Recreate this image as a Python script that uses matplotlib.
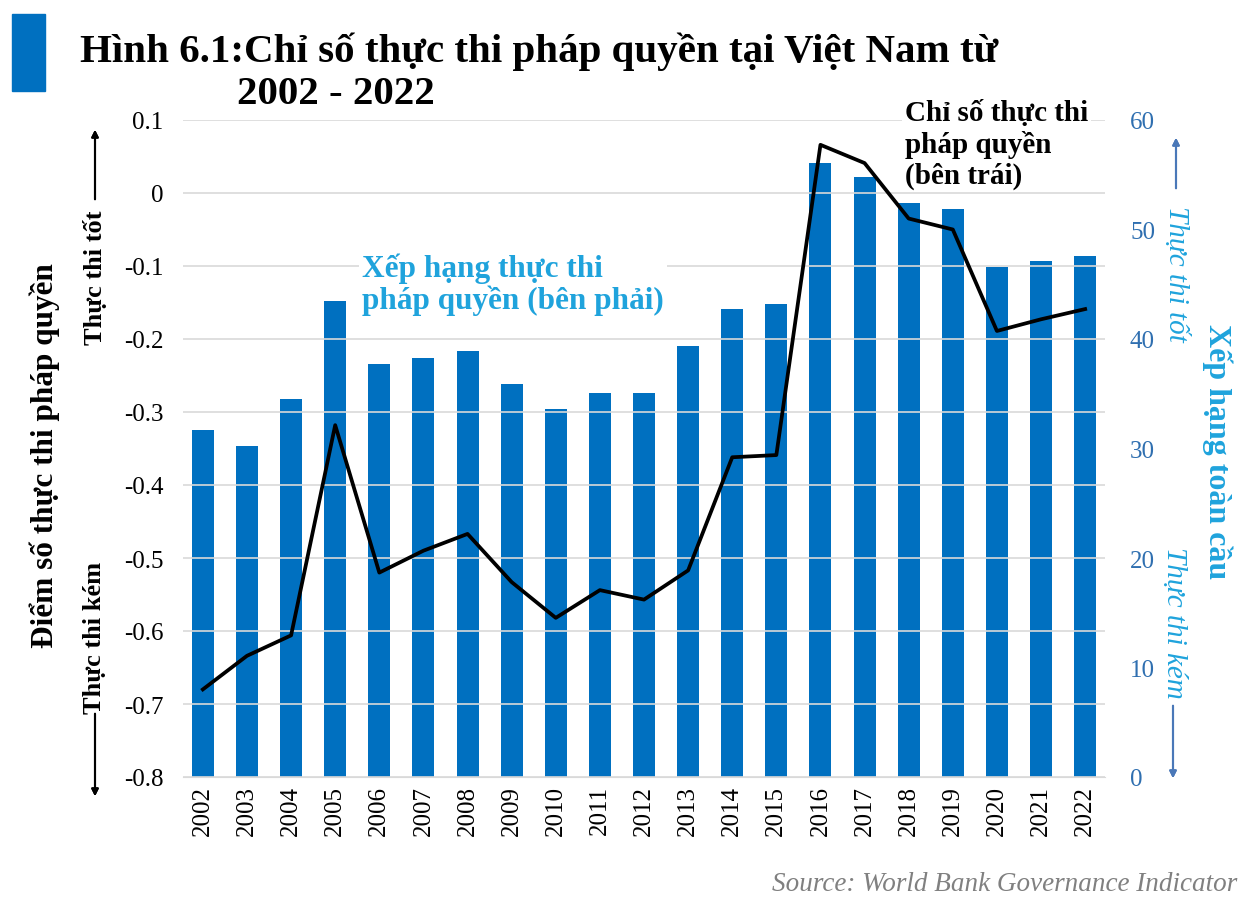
import matplotlib
matplotlib.use('Agg')
import matplotlib.pyplot as plt
from matplotlib.patches import Rectangle

plt.rcParams['font.family'] = ['Liberation Serif', 'DejaVu Serif']

years = [str(y) for y in range(2002, 2023)]
rank = [31.7, 30.2, 34.5, 43.5, 37.7, 38.3, 38.9, 35.9, 33.6, 35.1, 35.1,
        39.4, 42.7, 43.2, 56.1, 54.8, 52.4, 51.9, 46.6, 47.1, 47.6]
score = [-0.68, -0.634, -0.606, -0.318, -0.52, -0.49, -0.467, -0.533, -0.582, -0.544, -0.557,
         -0.517, -0.362, -0.359, 0.066, 0.041, -0.035, -0.05, -0.189, -0.173, -0.159]

bar_color = '#0070C0'
cyan = '#1FA3DC'
W, H = 1247, 903

def fx(x):
    return x / W

def fy(y):
    return 1 - y / H

fig = plt.figure(figsize=(12.47, 9.03), dpi=100)
ax = fig.add_axes([fx(183), fy(778), fx(1105) - fx(183), fy(121) - fy(778)])
ax2 = ax.twinx()

x = list(range(len(years)))
ax2.bar(x, rank, width=0.5, color=bar_color, zorder=2)
ax2.set_ylim(0, 60)
ax2.set_yticks(range(0, 61, 10))

ax.plot(x, score, color='black', linewidth=2.7, zorder=5)
ax.set_ylim(-0.8, 0.1)
ax.set_yticks([0.1, 0, -0.1, -0.2, -0.3, -0.4, -0.5, -0.6, -0.7, -0.8])
ax.set_yticklabels(['0.1', '0', '-0.1', '-0.2', '-0.3', '-0.4', '-0.5', '-0.6', '-0.7', '-0.8'])
ax.set_xlim(-0.45, len(years) - 0.55)
ax.set_xticks(x)
ax.set_xticklabels(years, rotation=90)
ax.grid(axis='y', color='#d9d9d9', linewidth=1.2, zorder=0)
ax.set_axisbelow(True)

# line above bars
ax.set_zorder(ax2.get_zorder() + 1)
ax.patch.set_visible(False)

for a in (ax, ax2):
    for s in ['top', 'left', 'right']:
        a.spines[s].set_visible(False)
    a.spines['bottom'].set_color('#d9d9d9')
ax2.spines['bottom'].set_visible(False)

ax.tick_params(axis='y', length=0, labelsize=18, pad=14)
ax.tick_params(axis='x', length=0, labelsize=18, pad=6)
ax2.tick_params(axis='y', length=0, labelsize=18, labelcolor='#2F6FB0', pad=18)

# title block
fig.patches.append(Rectangle((fx(12), fy(92)), fx(45) - fx(12), fy(15) - fy(92),
                             transform=fig.transFigure, color=bar_color))
fig.text(fx(80), fy(62), 'Hình 6.1:Chỉ số thực thi pháp quyền tại Việt Nam từ',
         fontsize=29.5, fontweight='bold', va='baseline')
fig.text(fx(237), fy(104), '2002 - 2022', fontsize=29.5, fontweight='bold', va='baseline')

# left axis labels
fig.text(fx(45), fy(456), 'Điểm số thực thi pháp quyền', rotation=90, fontsize=22.5,
         fontweight='bold', ha='center', va='center')
fig.text(fx(95), fy(278), 'Thực thi tốt', rotation=90, fontsize=19,
         fontweight='bold', ha='center', va='center')
fig.text(fx(95), fy(638), 'Thực thi kém', rotation=90, fontsize=19,
         fontweight='bold', ha='center', va='center')
fig.add_artist(plt.annotate('', xy=(fx(95), fy(128)), xytext=(fx(95), fy(203)),
                            xycoords='figure fraction',
                            arrowprops=dict(arrowstyle='-|>', color='black', lw=1.5)))
fig.add_artist(plt.annotate('', xy=(fx(95), fy(800)), xytext=(fx(95), fy(712)),
                            xycoords='figure fraction',
                            arrowprops=dict(arrowstyle='-|>', color='black', lw=1.5)))

# right axis labels
fig.text(fx(1217), fy(452), 'Xếp hạng toàn cầu', rotation=-90, fontsize=23,
         fontweight='bold', color=cyan, ha='center', va='center')
fig.text(fx(1176), fy(274), 'Thực thi tốt', rotation=-90, fontsize=21,
         style='italic', color=cyan, ha='center', va='center')
fig.text(fx(1174), fy(623), 'Thực thi kém', rotation=-90, fontsize=21,
         style='italic', color=cyan, ha='center', va='center')
fig.add_artist(plt.annotate('', xy=(fx(1176), fy(136)), xytext=(fx(1176), fy(192)),
                            xycoords='figure fraction',
                            arrowprops=dict(arrowstyle='-|>', color='#4A78B8', lw=1.5)))
fig.add_artist(plt.annotate('', xy=(fx(1173), fy(782)), xytext=(fx(1173), fy(704)),
                            xycoords='figure fraction',
                            arrowprops=dict(arrowstyle='-|>', color='#4A78B8', lw=1.5)))

# series annotations
fig.text(fx(362), fy(285), 'Xếp hạng thực thi\npháp quyền (bên phải)', fontsize=22.5,
         fontweight='bold', color=cyan, ha='left', va='center', linespacing=1.05,
         bbox=dict(facecolor='white', edgecolor='none', pad=2))
fig.text(fx(905), fy(145), 'Chỉ số thực thi\npháp quyền\n(bên trái)', fontsize=21,
         fontweight='bold', color='black', ha='left', va='center', linespacing=1.2,
         bbox=dict(facecolor='white', edgecolor='none', pad=2))

fig.text(fx(1237), fy(885), 'Source: World Bank Governance Indicator', fontsize=19.5,
         style='italic', color='#808080', ha='right', va='center')

fig.savefig('out.png', dpi=100)
